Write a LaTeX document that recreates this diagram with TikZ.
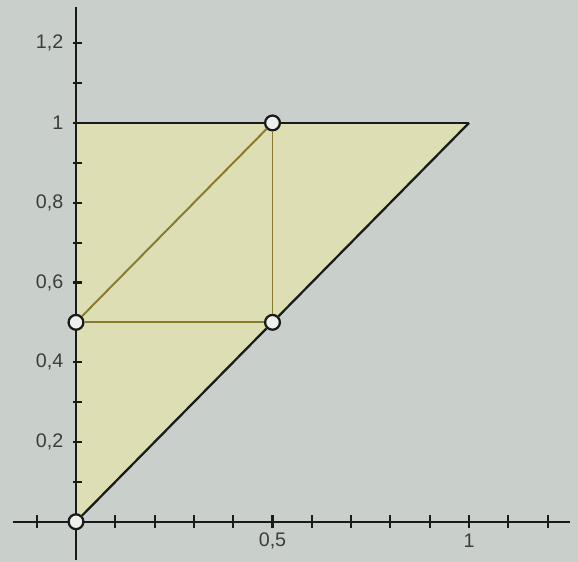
\documentclass[tikz,border=0pt]{standalone}
\usepackage{fontspec}
\setmainfont{Liberation Sans}
\usepackage{tikz}
\usetikzlibrary{positioning, calc}
\definecolor{paper}{HTML}{C9D0CC}
\definecolor{region}{HTML}{DDDEB3}
\definecolor{olive}{HTML}{8A7A2E}
\definecolor{ink}{HTML}{1A1A1A}
\definecolor{hole}{HTML}{EEF0EC}
\tikzset{
  axis/.style    = {draw=ink, line width=1.6pt},
  axtick/.style  = {draw=ink, line width=1.5pt},
  edge/.style    = {draw=ink, line width=1.6pt},
  inedge/.style  = {draw=olive, line width=1.4pt},
  vtx/.style     = {circle, draw=ink, line width=1.6pt, fill=hole,
                    minimum size=0.37cm, inner sep=0pt},
  numlbl/.style  = {font=\fontsize{14}{16}\selectfont, text=ink!85, inner sep=1pt},
}
\begin{document}
\begin{tikzpicture}[x=9.83cm, y=9.975cm]

  % frame
  \fill[paper] (-0.1934,-0.1003) rectangle (1.2774,1.3083);
  \useasboundingbox (-0.1934,-0.1003) rectangle (1.2774,1.3083);

  % corner points
  \coordinate (o) at (0,0);
  \coordinate (tl) at (0,1);
  \coordinate (tr) at (1,1);

  % region
  \fill[region] (o) -- (tl) -- (tr) -- cycle;

  % axes
  \draw[axis] (-0.16,0) -- (1.257,0);
  \draw[axis] (0,-0.095) -- (0,1.29);
  \foreach \i in {-1,1,2,...,12}
    \draw[axtick] (\i/10,0) ++(0,-0.16cm) -- ++(0,0.32cm);
  \foreach \j in {1,...,12}
    \draw[axtick] (0,\j/10) ++(-0.08cm,0) -- ++(0.24cm,0);

  % tick labels
  \foreach \j/\t in {2/{0,2}, 4/{0,4}, 6/{0,6}, 8/{0,8}, 10/{1}, 12/{1,2}}
    \node[numlbl, anchor=east] (ly\j) at (-0.028,\j/10) {\t};
  \node[numlbl] (lx5) at (0.5,-0.047) {0,5};
  \node[numlbl] (lx10) at (1,-0.047) {1};

  % vertices
  \node[vtx] (v0) at (0,0) {};
  \node[vtx] (v1) at (0,0.5) {};
  \node[vtx] (v2) at (0.5,0.5) {};
  \node[vtx] (v3) at (0.5,1) {};

  % inner triangle
  \draw[inedge] (v1) -- (v3);
  \draw[inedge] (v3) -- (v2);
  \draw[inedge] (v1) -- (v2);

  % outer edges
  \draw[edge] (tl) -- (v3);
  \draw[edge] (v3) -- (tr);
  \draw[edge] (v0) -- (v2);
  \draw[edge] (v2) -- (tr);

\end{tikzpicture}
\end{document}
